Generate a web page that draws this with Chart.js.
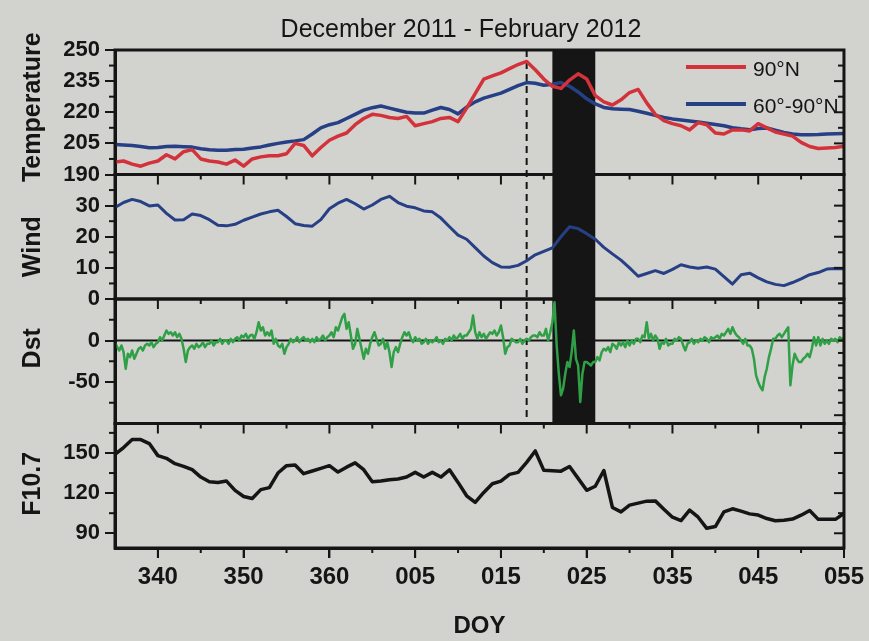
<!DOCTYPE html>
<html>
<head>
<meta charset="utf-8">
<script src="https://cdn.jsdelivr.net/npm/chart.js@4.4.0/dist/chart.umd.min.js"></script>
<style>
    html, body { margin: 0; padding: 0; background: #d2d2ce; }
    #contenedor { position: relative; width: 869px; height: 641px; }
</style>
</head>
<body>
<div id="contenedor"><canvas id="chartPaneles" width="869" height="641"></canvas></div>
<script>
// ===== DATOS (DOY 335 de 2011 a DOY 055 de 2012, contados como 335..420) =====

const dias = [];
for (let d = 335; d <= 420; d++) dias.push(d);

const temp90N = [
    196, 196.5, 195, 194, 195.5, 196.5, 199.5, 197.5, 201, 202,
    197.5, 196.5, 196, 195, 197, 194, 197.5, 198.5, 199, 199,
    200, 205, 204, 199, 203, 206.5, 208.5, 210, 214, 217,
    219, 218.5, 217.5, 217, 218, 213.5, 214.5, 215.5, 217, 217.5,
    215.5, 222, 229, 236, 237.5, 239, 241, 243, 244.5, 240.5,
    236, 232.5, 231.5, 235.5, 238.5, 236, 228, 225, 223.5, 226,
    229.5, 231, 224.5, 219, 216, 214.5, 213.5, 211.5, 215, 214,
    210, 209.5, 211.5, 211.5, 211, 214.5, 212.5, 210.5, 209.5, 208.5,
    205.5, 203.5, 202.5, 202.8, 203, 203.6
];

const temp6090N = [
    204.4, 204.2, 204, 203.5, 202.9, 203, 203.5, 203.6, 203.4, 203.2,
    202.4, 201.9, 201.7, 201.7, 202, 202.2, 202.8, 203.3, 204.2, 205,
    205.7, 206.2, 206.8, 209.5, 212.5, 214, 215, 217, 219, 221,
    222.2, 223, 222, 221, 220, 219.6, 219.6, 221, 222.3, 221.3,
    219.2, 222.5, 225, 226.8, 228, 229.2, 231, 232.8, 234.3, 234,
    233, 233.5, 234.3, 232.5, 229.8, 226.5, 224, 222.3, 221.7, 221.5,
    221.3, 220.5, 219.5, 218.5, 217.5, 216.8, 216.3, 215.8, 215.3, 214.7,
    214.1, 213.5, 212.5, 212, 211.6, 212.2, 212.4, 211.3, 210.3, 209.5,
    209.2, 209.2, 209.3, 209.5, 209.6, 209.7
];

const viento = [
    29.4, 31, 32, 31.3, 29.9, 30.2, 27.5, 25.4, 25.5, 27.3,
    26.8, 25.5, 23.7, 23.5, 24, 25.3, 26.3, 27.3, 28, 28.5,
    26.5, 24.2, 23.6, 23.4, 25.5, 29, 30.8, 32, 30.6, 28.9,
    30.2, 32, 33, 31, 29.8, 29.3, 28.3, 28, 26, 23.2,
    20.5, 19.2, 16.5, 13.8, 11.7, 10.3, 10.2, 10.8, 12.3, 14.2,
    15.3, 16.4, 20, 23.2, 22.6, 21, 19.2, 16.6, 14.5, 12.5,
    10, 7.3, 8.2, 9.1, 8.2, 9.5, 11, 10.3, 9.9, 10.3,
    9.6, 7.2, 4.8, 7.8, 8.3, 6.8, 5.5, 4.7, 4.3, 5.3,
    6.5, 7.8, 8.5, 9.6, 9.8, 9.7
];

const f107 = [
    149, 154, 160, 160, 157, 148, 146, 142, 140, 137.5,
    132, 128.5, 128, 129, 122, 117.5, 116, 122.6, 124.1, 135,
    140.5, 141, 134.5, 136.5, 138.5, 140.5, 135.7, 139.4, 142.6, 137.5,
    128.5, 129, 130, 130.5, 132, 135.5, 132, 135.5, 132, 137.4,
    128, 118, 113, 120.5, 127, 129, 134, 135.5, 143, 151.5,
    137, 136.7, 136.4, 139.9, 131, 122.1, 125.1, 136.9, 109.3, 106,
    111, 112.5, 114, 114.2, 108, 102, 99.5, 107.3, 102, 93.7,
    95, 106, 108.3, 106.5, 104.5, 103.6, 101, 99.4, 99.8, 100.6,
    103.5, 107, 100.4, 100.4, 100.4, 104.8
];

// Dst cada 6 horas desde el dia 335
const dstInicio = 335;
const dstPaso = 0.25;
const dst = [
    -2, -8, -12, -6,   -14, -34, -16, -20,   -12, -22, -16, -10,   -8, -12, -6, -4,
    -6, -2, -8, -4,    -2, 4, 0, 6,          12, 8, 10, 6,         10, 4, 8, 2,
    -10, -26, -12, -8, -6, -10, -4, -8,      -6, -2, -8, -4,       -4, 0, -6, -2,
    -2, 2, -4, 0,      0, -4, 2, -2,         2, 4, 0, 6,           4, 8, 2, 6,
    7, 2, 10, 22,      12, 16, 6, 10,        6, 12, -4, 2,         -6, -8, -4, -16,
    -8, -4, 2, -2,     0, 4, -2, 2,          4, 0, 2, -2,          2, -2, 4, 0,
    2, 6, 0, 4,        6, 10, 4, 16,         12, 20, 28, 32,       14, 22, 6, -10,
    -4, 14, 2, -10,    -22, -10, -16, -4,    4, 10, 2, -6,         -4, 2, -10, -2,
    -14, -32, -14, -8, -14, -4, 4, 10,       6, 10, 2, -2,         4, 0, 2, -4,
    -2, 2, -4, 0,      -2, 0, 4, -2,         0, -4, 2, 0,          4, 0, 6, 2,
    4, 8, 2, 6,        6, 10, 14, 30,        10, 2, 10, 4,         8, 2, 6, 10,
    8, 12, 6, 10,      18, 4, -16, -8,       -6, 2, 0, -2,         -2, 2, -4, 0,
    2, 0, 4, 6,        6, 4, 10, 6,          6, 14, 0, 10,         22, 46, -6, -40,
    -66, -58, -40, -26, -32, -14, 12, -22,   -30, -74, -40, -26,   -26, -28, -30, -26,
    -26, -20, -24, -14, -10, -12, -8, -14,   -4, -6, -10, -2,      -6, -2, -8, 0,
    -6, 0, -4, 2,      2, -2, 6, 4,          22, 2, 8, 0,          6, 2, -10, -2,
    -4, 2, -6, -4,     -4, 2, 0, 4,          2, -6, -12, -4,       -2, 2, -4, 0,
    -2, 2, 0, 4,       2, -2, 4, 2,          4, 6, 2, 8,           6, 10, 14, 8,
    16, 10, 6, 4,      0, -4, 2, -6,         -6, -10, -22, -42,    -50, -56, -60, -44,
    -34, -20, -10, 2,  2, 6, 8, 4,           8, 12, 16, -54,       -30, -16, -22, -26,
    -26, -22, -20, -16, -20, -10, 4, -6,     4, -6, 2, -4,         0, -4, 2, 0,
    2, -2, 4, 2,
    2
];

// Marcas del eje x y etiquetas DOY
const diasTicks = [340, 350, 360, 370, 380, 390, 400, 410, 420];
const etiquetasDOY = ['340', '350', '360', '005', '015', '025', '035', '045', '055'];

const ticksTemp = [190, 205, 220, 235, 250];
const ticksViento = [0, 10, 20, 30];
const ticksDst = [-50, 0];
const ticksF107 = [90, 120, 150];

const bandaDias = [386, 391];     // periodo sombreado
const diaReferencia = 383;        // linea punteada

const titulo = 'December 2011 - February 2012';

// ===== ESTILO =====
const NEGRO = '#151515';
const FUENTE = '"Liberation Sans", Arial, Helvetica, sans-serif';

const paneles = [
    { id: 'yT', titulo: 'Temperature', dy: -5, inicio: 190, paso: 7.5, mayor: 15, derInicio: 190, derPaso: 7.5, derMayor: 15 },
    { id: 'yW', titulo: 'Wind', dy: 10, inicio: 0, paso: 5, mayor: 10, derInicio: 0, derPaso: 5, derMayor: 10 },
    { id: 'yD', titulo: 'Dst', dy: -13, inicio: -100, paso: 25, mayor: 50, derInicio: -90, derPaso: 15, derMayor: 1000 },
    { id: 'yF', titulo: 'F10.7', dy: -2, inicio: 90, paso: 15, mayor: 30, derInicio: 90, derPaso: 15, derMayor: 30 }
];

function esMultiplo(v, base, paso) {
    const k = (v - base) / paso;
    return Math.abs(k - Math.round(k)) < 1e-6;
}

function linea(ctx, x1, y1, x2, y2) {
    ctx.beginPath();
    ctx.moveTo(x1, y1);
    ctx.lineTo(x2, y2);
    ctx.stroke();
}

// Plugin: banda, linea punteada, marcos, marcas menores, leyenda y titulos
const marcoPlugin = {
    id: 'marco',
    beforeDatasetsDraw(chart) {
        const { ctx, chartArea: a, scales: s } = chart;
        const arriba = s.yT.top, abajo = s.yD.bottom;
        ctx.save();
        const xb0 = s.x.getPixelForValue(bandaDias[0]);
        const xb1 = s.x.getPixelForValue(bandaDias[1]);
        ctx.fillStyle = NEGRO;
        ctx.fillRect(xb0, arriba, xb1 - xb0, abajo - arriba);

        const xd = s.x.getPixelForValue(diaReferencia);
        ctx.strokeStyle = NEGRO;
        ctx.lineWidth = 2;
        ctx.setLineDash([7, 5]);
        linea(ctx, xd, arriba, xd, abajo);
        ctx.setLineDash([]);

        const y0 = s.yD.getPixelForValue(0);
        linea(ctx, a.left, y0, a.right, y0);
        ctx.restore();
    },
    afterDraw(chart) {
        const { ctx, chartArea: a, scales: s } = chart;
        ctx.save();
        ctx.strokeStyle = NEGRO;
        ctx.lineWidth = 2;

        paneles.forEach(p => {
            const sc = s[p.id];
            // marcas menores a la izquierda (hacia afuera)
            for (let v = p.inicio; v <= sc.max + 1e-6; v += p.paso) {
                if (v < sc.min - 1e-6) continue;
                if (!esMultiplo(v, p.inicio, p.mayor)) {
                    const y = sc.getPixelForValue(v);
                    linea(ctx, a.left - 6, y, a.left, y);
                }
            }
            // marcas a la derecha (hacia adentro)
            for (let v = p.derInicio; v < sc.max - 1e-6; v += p.derPaso) {
                if (v <= sc.min + 1e-6) continue;
                const y = sc.getPixelForValue(v);
                const largo = esMultiplo(v, p.derInicio, p.derMayor) ? 10 : 6;
                linea(ctx, a.right, y, a.right - largo, y);
            }
            // marcas de dias en el borde inferior de cada panel
            for (let d = 340; d < 420; d += 5) {
                const x = s.x.getPixelForValue(d);
                const largo = (d - 340) % 10 === 0 ? 10 : 5;
                linea(ctx, x, sc.bottom, x, sc.bottom + largo);
            }
        });

        // marcos de los paneles
        ctx.lineWidth = 3;
        paneles.forEach(p => {
            const sc = s[p.id];
            ctx.strokeRect(a.left, sc.top, a.right - a.left, sc.bottom - sc.top);
        });

        // leyenda del panel de temperatura
        ctx.font = '21px ' + FUENTE;
        ctx.textAlign = 'left';
        ctx.textBaseline = 'middle';
        ctx.fillStyle = NEGRO;
        [0, 1].forEach(i => {
            const ds = chart.data.datasets[i];
            const y = s.yT.top + 17 + i * 37;
            ctx.strokeStyle = ds.borderColor;
            ctx.lineWidth = 4;
            linea(ctx, a.right - 158, y, a.right - 98, y);
            ctx.fillText(ds.label, a.right - 91, y + 3);
        });

        // titulos de los ejes y
        ctx.font = 'bold 25px ' + FUENTE;
        ctx.textAlign = 'center';
        paneles.forEach(p => {
            const sc = s[p.id];
            ctx.save();
            ctx.translate(33, (sc.top + sc.bottom) / 2 + p.dy);
            ctx.rotate(-Math.PI / 2);
            ctx.fillText(p.titulo, 0, 0);
            ctx.restore();
        });

        // titulo
        ctx.font = '25px ' + FUENTE;
        ctx.fillText(titulo, a.left + 346, 30);
        ctx.restore();
    }
};

function ejeY(min, max, ticks) {
    return {
        type: 'linear',
        position: 'left',
        stack: 'paneles',
        stackWeight: 1,
        min: min,
        max: max,
        afterBuildTicks: eje => { eje.ticks = ticks.map(v => ({ value: v })); },
        afterFit: eje => { eje.width = 115; },
        ticks: {
            color: NEGRO,
            padding: 5,
            autoSkip: false,
            font: { family: FUENTE, size: 22, weight: 'bold' }
        },
        grid: { drawOnChartArea: false, drawTicks: true, tickLength: 10, color: NEGRO, lineWidth: 2 },
        border: { display: true, color: NEGRO, width: 3 }
    };
}

function puntos(valores) {
    return valores.map((v, i) => ({ x: dias[i], y: v }));
}

document.addEventListener('DOMContentLoaded', function() {
    const ctx = document.getElementById('chartPaneles');
    new Chart(ctx, {
        type: 'line',
        data: {
            datasets: [
                { label: '90°N', data: puntos(temp90N), yAxisID: 'yT', borderColor: '#d3323a', borderWidth: 3.5 },
                { label: '60°-90°N', data: puntos(temp6090N), yAxisID: 'yT', borderColor: '#263f85', borderWidth: 3.5 },
                { label: 'Wind', data: puntos(viento), yAxisID: 'yW', borderColor: '#263f85', borderWidth: 3 },
                { label: 'Dst', data: dst.map((v, i) => ({ x: dstInicio + i * dstPaso, y: v })), yAxisID: 'yD', borderColor: '#2fa046', borderWidth: 2.5 },
                { label: 'F10.7', data: puntos(f107), yAxisID: 'yF', borderColor: NEGRO, borderWidth: 3.5 }
            ]
        },
        options: {
            responsive: false,
            animation: false,
            elements: {
                point: { radius: 0 },
                line: { tension: 0, borderJoinStyle: 'round', borderCapStyle: 'round' }
            },
            layout: { padding: { top: 50, right: 21, left: 0, bottom: 0 } },
            plugins: {
                legend: { display: false },
                tooltip: { enabled: false }
            },
            scales: {
                x: {
                    type: 'linear',
                    position: 'bottom',
                    min: 335,
                    max: 420,
                    afterBuildTicks: eje => { eje.ticks = diasTicks.map(v => ({ value: v })); },
                    afterFit: eje => { eje.height = 93; },
                    ticks: {
                        color: NEGRO,
                        padding: 5,
                        maxRotation: 0,
                        autoSkip: false,
                        font: { family: FUENTE, size: 24, weight: 'bold' },
                        callback: value => etiquetasDOY[diasTicks.indexOf(value)]
                    },
                    grid: { drawOnChartArea: false, drawTicks: true, tickLength: 10, color: NEGRO, lineWidth: 2 },
                    border: { display: true, color: NEGRO, width: 3 },
                    title: {
                        display: true,
                        text: 'DOY',
                        color: NEGRO,
                        font: { family: FUENTE, size: 24, weight: 'bold' },
                        padding: { top: 0, bottom: 0 }
                    }
                },
                yF: ejeY(79, 172, ticksF107),
                yD: ejeY(-100, 50, ticksDst),
                yW: ejeY(0, 40, ticksViento),
                yT: ejeY(190, 250, ticksTemp)
            }
        },
        plugins: [marcoPlugin]
    });
});
</script>
</body>
</html>
